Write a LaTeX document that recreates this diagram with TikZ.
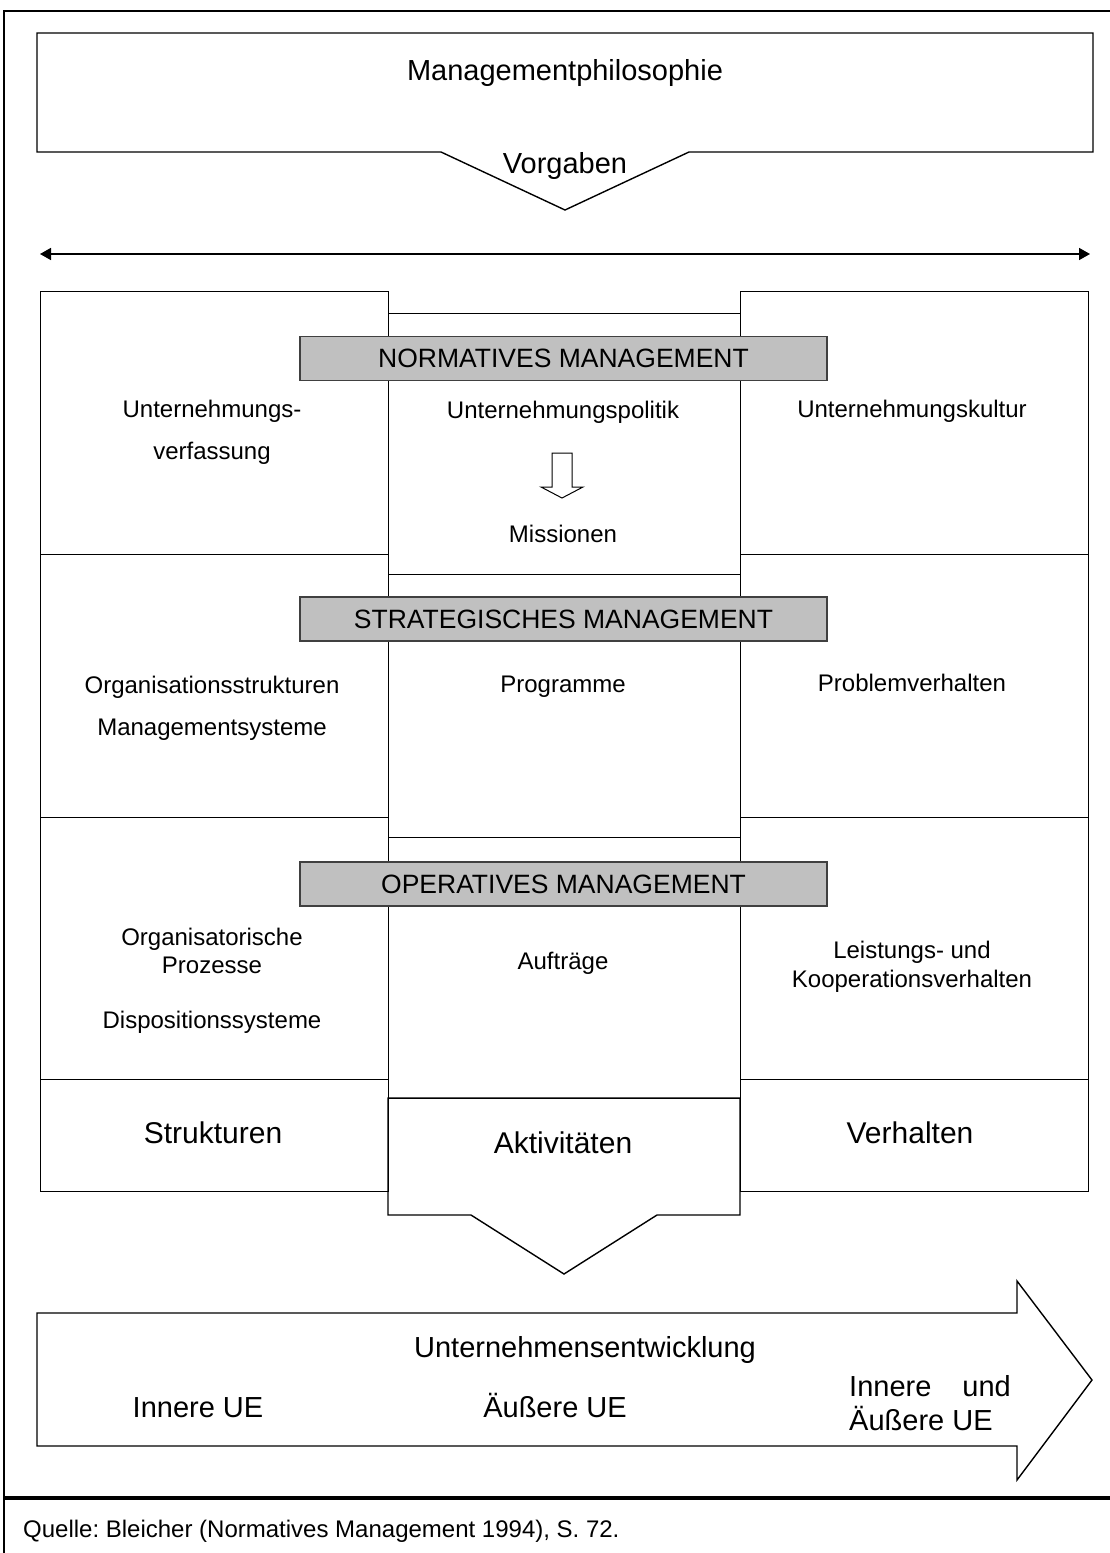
\documentclass[tikz,border=0pt]{standalone}
\usepackage{fontspec}
\setmainfont{Liberation Sans}
\usetikzlibrary{arrows.meta}
\definecolor{bargray}{RGB}{192,192,192}
\frenchspacing

\begin{document}
\begin{tikzpicture}[x=1pt, y=-1pt,
    % Node styles
    cell/.style={rectangle, draw=black, line width=1.4pt, anchor=north west, inner sep=0pt, minimum width=348pt},
    midcell/.style={cell, minimum width=352pt},
    bar/.style={rectangle, draw=black!75, fill=bargray, line width=1.2pt, minimum width=527pt, minimum height=44pt, inner sep=0pt, font=\fontsize{26.5}{30}\selectfont},
    txt/.style={anchor=base, inner sep=0pt, font=\fontsize{24}{28}\selectfont},
    bigtxt/.style={anchor=base, inner sep=0pt, font=\fontsize{29}{34}\selectfont},
    outline/.style={draw=black, line width=1.4pt, line join=miter},
    arrow/.style={{Triangle[length=11pt,width=12pt]}-{Triangle[length=11pt,width=12pt]}, line width=1.6pt},
]
\useasboundingbox (0,0) rectangle (1110,1553);

% === Frame ===
\draw[line width=1.4pt] (4,1553) -- (4,11) -- (1110,11);
\draw[line width=3.5pt] (4,1498) -- (1110,1498);

% === TOP: Philosophy ===
\draw[outline] (37,33) -- (1093,33) -- (1093,152) -- (689,152) -- (565,210) -- (441,152) -- (37,152) -- cycle;
\node[bigtxt] (phil) at (565,80) {Managementphilosophie};
\node[bigtxt] (vorgaben) at (565,173) {Vorgaben};

\coordinate (spanwest) at (40,254);
\coordinate (spaneast) at (1090,254);
\draw[arrow] (spanwest) -- (spaneast);

% === LEFT column ===
\node[cell, minimum height=263pt] (lnorm) at (40,291) {};
\node[cell, minimum height=263pt] (lstrat) at (40,554) {};
\node[cell, minimum height=262pt] (lop) at (40,817) {};
\node[cell, minimum height=112pt] (lbase) at (40,1079) {};

% === RIGHT column ===
\node[cell, minimum height=263pt] (rnorm) at (740,291) {};
\node[cell, minimum height=263pt] (rstrat) at (740,554) {};
\node[cell, minimum height=262pt] (rop) at (740,817) {};
\node[cell, minimum height=112pt] (rbase) at (740,1079) {};

% === CENTER column ===
\node[midcell, minimum height=261pt] (mnorm) at (388,313) {};
\node[midcell, minimum height=263pt] (mstrat) at (388,574) {};
\node[midcell, minimum height=261pt] (mop) at (388,837) {};
\draw[outline] (388,1098) -- (740,1098) -- (740,1215) -- (657,1215) -- (564,1274) -- (471,1215) -- (388,1215) -- cycle;

% Level bars
\node[bar] (normbar) at (563.5,358.5) {NORMATIVES MANAGEMENT};
\node[bar] (stratbar) at (563.5,619) {STRATEGISCHES MANAGEMENT};
\node[bar] (opbar) at (563.5,884) {OPERATIVES MANAGEMENT};

% === Texts: normative level ===
\node[txt] (verf1) at (212,417) {Unternehmungs-};
\node[txt] (verf2) at (212,459) {verfassung};
\node[txt] (politik) at (563,418) {Unternehmungspolitik};
\node[txt] (missionen) at (563,542) {Missionen};
\node[txt] (kultur) at (912,417) {Unternehmungskultur};
\draw[line width=1pt, line join=miter] (552,453) -- (572,453) -- (572,487) -- (583,487) -- (562,498) -- (541,487) -- (552,487) -- cycle;

% === Texts: strategic level ===
\node[txt] (orgstr) at (212,693) {Organisationsstrukturen};
\node[txt] (mansys) at (212,735) {Managementsysteme};
\node[txt] (programme) at (563,692) {Programme};
\node[txt] (problem) at (912,691) {Problemverhalten};

% === Texts: operative level ===
\node[txt] (orgproz1) at (212,945) {Organisatorische};
\node[txt] (orgproz2) at (212,973) {Prozesse};
\node[txt] (dispo) at (212,1028) {Dispositionssysteme};
\node[txt] (auftraege) at (563,969) {Aufträge};
\node[txt] (leistung1) at (912,958) {Leistungs- und};
\node[txt] (leistung2) at (912,987) {Kooperationsverhalten};

% === Bottom row ===
\node[bigtxt, font=\fontsize{30}{34}\selectfont] (strukturen) at (213,1143) {Strukturen};
\node[bigtxt, font=\fontsize{30}{34}\selectfont] (aktiv) at (563,1153) {Aktivitäten};
\node[bigtxt, font=\fontsize{30}{34}\selectfont] (verhalten) at (910,1143) {Verhalten};

% === Development arrow ===
\draw[outline] (37,1313) -- (1017,1313) -- (1017,1281) -- (1092,1380) -- (1017,1480) -- (1017,1446) -- (37,1446) -- cycle;
\node[bigtxt] (entw) at (585,1357) {Unternehmensentwicklung};
\node[bigtxt] (inner) at (198,1417) {Innere UE};
\node[bigtxt] (outer) at (555,1417) {Äußere UE};
\node[bigtxt, anchor=base west] (both1) at (849,1396) {Innere\hspace{31pt}und};
\node[bigtxt, anchor=base west] (both2) at (849,1430) {Äußere UE};

% Source
\node[txt, anchor=base west] (quelle) at (23,1537) {Quelle: Bleicher (Normatives Management 1994), S. 72.};

\end{tikzpicture}
\end{document}
